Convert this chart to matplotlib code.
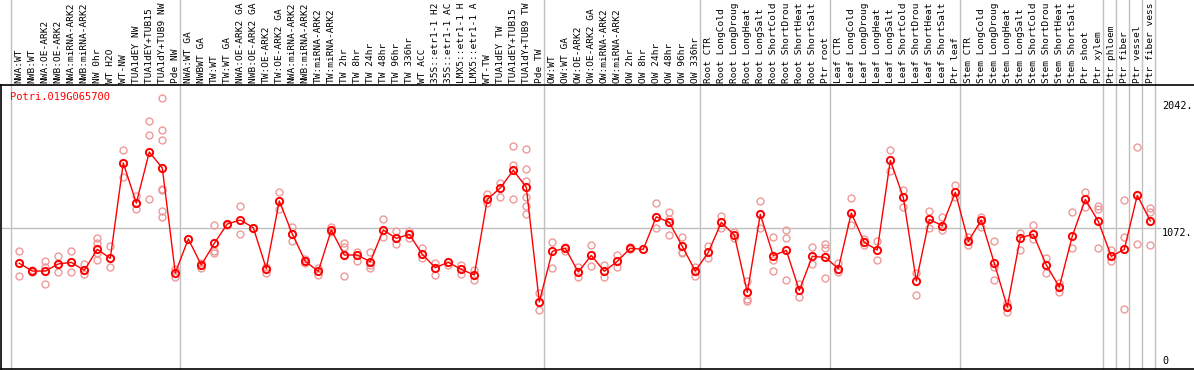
import numpy as np
from matplotlib import pyplot as plt

gene = 'Potri.019G065700'

labels = ['NWA:WT', 'NWB:WT', 'NWA:OE-ARK2', 'NWB:OE-ARK2', 'NWA:miRNA-ARK2', 'NWB:miRNA-ARK2',
          'NW 0hr', 'WT H2O', 'WT-NW', 'TUA1dEY NW', 'TUA1dEY+TUB15 NW', 'TUA1dY+TUB9 NW', 'Pde NW',
          'NWA:WT GA', 'NWBWT GA', 'TW:WT', 'TW:WT GA', 'NWA:OE-ARK2 GA', 'NWB:OE-ARK2 GA',
          'TW:OE-ARK2', 'TW:OE-ARK2 GA', 'NWA:miRNA-ARK2', 'NWB:miRNA-ARK2', 'TW:miRNA-ARK2',
          'TW:miRNA-ARK2', 'TW 2hr', 'TW 8hr', 'TW 24hr', 'TW 48hr', 'TW 96hr', 'TW 336hr', 'WT ACC',
          '35S::etr1-1 H2O', '35S::etr1-1 ACC', 'LMX5::etr1-1 H2O', 'LMX5::etr1-1 ACC', 'WT-TW',
          'TUA1dEY TW', 'TUA1dEY+TUB15 TW', 'TUA1dY+TUB9 TW', 'Pde TW',
          'OW:WT', 'OW:WT GA', 'OW:OE-ARK2', 'OW:OE-ARK2 GA', 'OW:miRNA-ARK2', 'OW:miRNA-ARK2',
          'OW 2hr', 'OW 8hr', 'OW 24hr', 'OW 48hr', 'OW 96hr', 'OW 336hr',
          'Root CTR', 'Root LongCold', 'Root LongDrought', 'Root LongHeat', 'Root LongSalt',
          'Root ShortCold', 'Root ShortDrought', 'Root ShortHeat', 'Root ShortSalt', 'Ptr root',
          'Leaf CTR', 'Leaf LongCold', 'Leaf LongDrought', 'Leaf LongHeat', 'Leaf LongSalt',
          'Leaf ShortCold', 'Leaf ShortDrought', 'Leaf ShortHeat', 'Leaf ShortSalt', 'Ptr leaf',
          'Stem CTR', 'Stem LongCold', 'Stem LongDrought', 'Stem LongHeat', 'Stem LongSalt',
          'Stem ShortCold', 'Stem ShortDrought', 'Stem ShortHeat', 'Stem ShortSalt', 'Ptr shoot',
          'Ptr xylem', 'Ptr phloem', 'Ptr fiber', 'Ptr vessel', 'Ptr fiber vessel']

means = [804, 745, 745, 799, 811, 750, 910, 842, 1567, 1262, 1650, 1529, 730,
         989, 791, 956, 1103, 1133, 1075, 763, 1278, 1027, 819, 743, 1057, 867, 867, 816,
         1057, 994, 1024, 872, 771, 811, 758, 715, 1290, 1377, 1511, 1382, 510,
         895, 918, 738, 864, 743, 819, 918, 910, 1158, 1115, 933, 745,
         887, 1115, 1019, 583, 1176, 862, 902, 598, 857, 849,
         763, 1186, 963, 905, 1587, 1306, 669, 1138, 1090, 1344,
         971, 1133, 804, 472, 999, 1024, 791, 624, 1011, 1290, 1123,
         857, 910, 1321, 1126]

reps = [[895, 804, 710], [753, 738], [819, 778, 644], [859, 740, 799], [895, 740, 811],
        [799, 725, 750], [994, 961, 880, 826], [938, 773, 842], [1663, 1458, 1567],
        [1316, 1214, 1262], [1883, 1777, 1290], [2058, 1815, 1739, 1371, 1361, 1202, 1153],
        [761, 702],
        [989], [804, 766], [1095, 895, 885], [1095, 1103], [1240, 1027], [1075], [778, 733],
        [1346, 1214], [1082, 971], [834, 804], [766, 715], [1077, 1044], [961, 930, 707, 867],
        [887, 824], [887, 791, 766], [1138, 1006], [1047, 948], [1047, 994], [918, 842],
        [804, 715], [816, 791], [793, 720], [753, 677], [1331, 1260], [1417, 1306],
        [1693, 1551, 1290], [1671, 1518, 1432, 1306, 1240, 1176], [575, 449],
        [968, 766], [930, 900], [773, 697], [943, 781], [791, 697], [867, 773], [925, 910],
        [910], [1260, 1070], [1194, 1138, 1017], [1001, 892, 885], [778, 710],
        [935, 842], [1164, 1070], [1042, 999], [672, 530, 520], [1275, 1070], [1001, 829, 743],
        [1057, 994, 674], [646, 550], [925, 799], [951, 918, 690],
        [804, 738], [1298, 1095], [989, 943], [973, 826], [1663, 1506], [1361, 1229],
        [733, 560], [1199, 1070], [1156, 1057], [1399, 1311],
        [1006, 943], [1158, 1082], [971, 778, 674], [504, 436], [1037, 905], [1095, 986],
        [847, 728], [657, 583], [1191, 918], [1344, 1235], [1240, 1214, 918],
        [905, 824], [1283, 1001, 456], [1686, 951], [1222, 1197, 940]]

# last column index of each group (vertical separators)
group_ends = [-1, 12, 40, 52, 62, 72, 83, 84, 85, 86, 87]

fig = plt.figure(figsize=(11.94, 3.70), dpi=100)
ax = fig.add_axes([1 / 1194, 1 / 370, 1193 / 1194, 284 / 370])
x = np.arange(len(means))

for g in group_ends:
    ax.axvline(g + 0.38, ymin=0, ymax=1.31, color='#c0c0c0', lw=1, clip_on=False, zorder=1)
ax.hlines(1072, -1.5, 87.8, color='#c0c0c0', lw=1, zorder=1)

for i in range(len(reps)):
    ax.plot([i] * len(reps[i]), reps[i], 'o', ms=5, mfc='none', mec='#ee9999', mew=1, zorder=2)
ax.plot(x, means, '-', color='red', lw=1, zorder=3)
ax.plot(x, means, 'o', ms=5.2, mfc='none', mec='red', mew=1.4, zorder=4)

ax.set_xlim((1 - 19.3) / 13, (1194 - 19.3) / 13)
ax.set_ylim(0, 2160)
ax.set_xticks([])
ax.set_yticks([])
ax.spines['right'].set_visible(False)
for s in ['left', 'top', 'bottom']:
    ax.spines[s].set_linewidth(1.2)

# the column header only has room for 14 characters
for i, lab in enumerate(labels):
    ax.text(i, 1.007, lab[:14], transform=ax.get_xaxis_transform(), rotation=90, ha='center',
            va='bottom', fontsize=6.8, family='DejaVu Sans Mono', clip_on=False)

ax.text(-0.7, 2110, gene, color='red', fontsize=7.5, family='DejaVu Sans Mono', ha='left', va='top')
for v, t in [(2042, '2042.'), (1072, '1072.')]:
    ax.text(87.9, v, t, fontsize=7.3, family='DejaVu Sans Mono', ha='left', va='top')
ax.text(87.9, 25, '0', fontsize=7.3, family='DejaVu Sans Mono', ha='left', va='bottom')

fig.savefig('out.png', dpi=100)
